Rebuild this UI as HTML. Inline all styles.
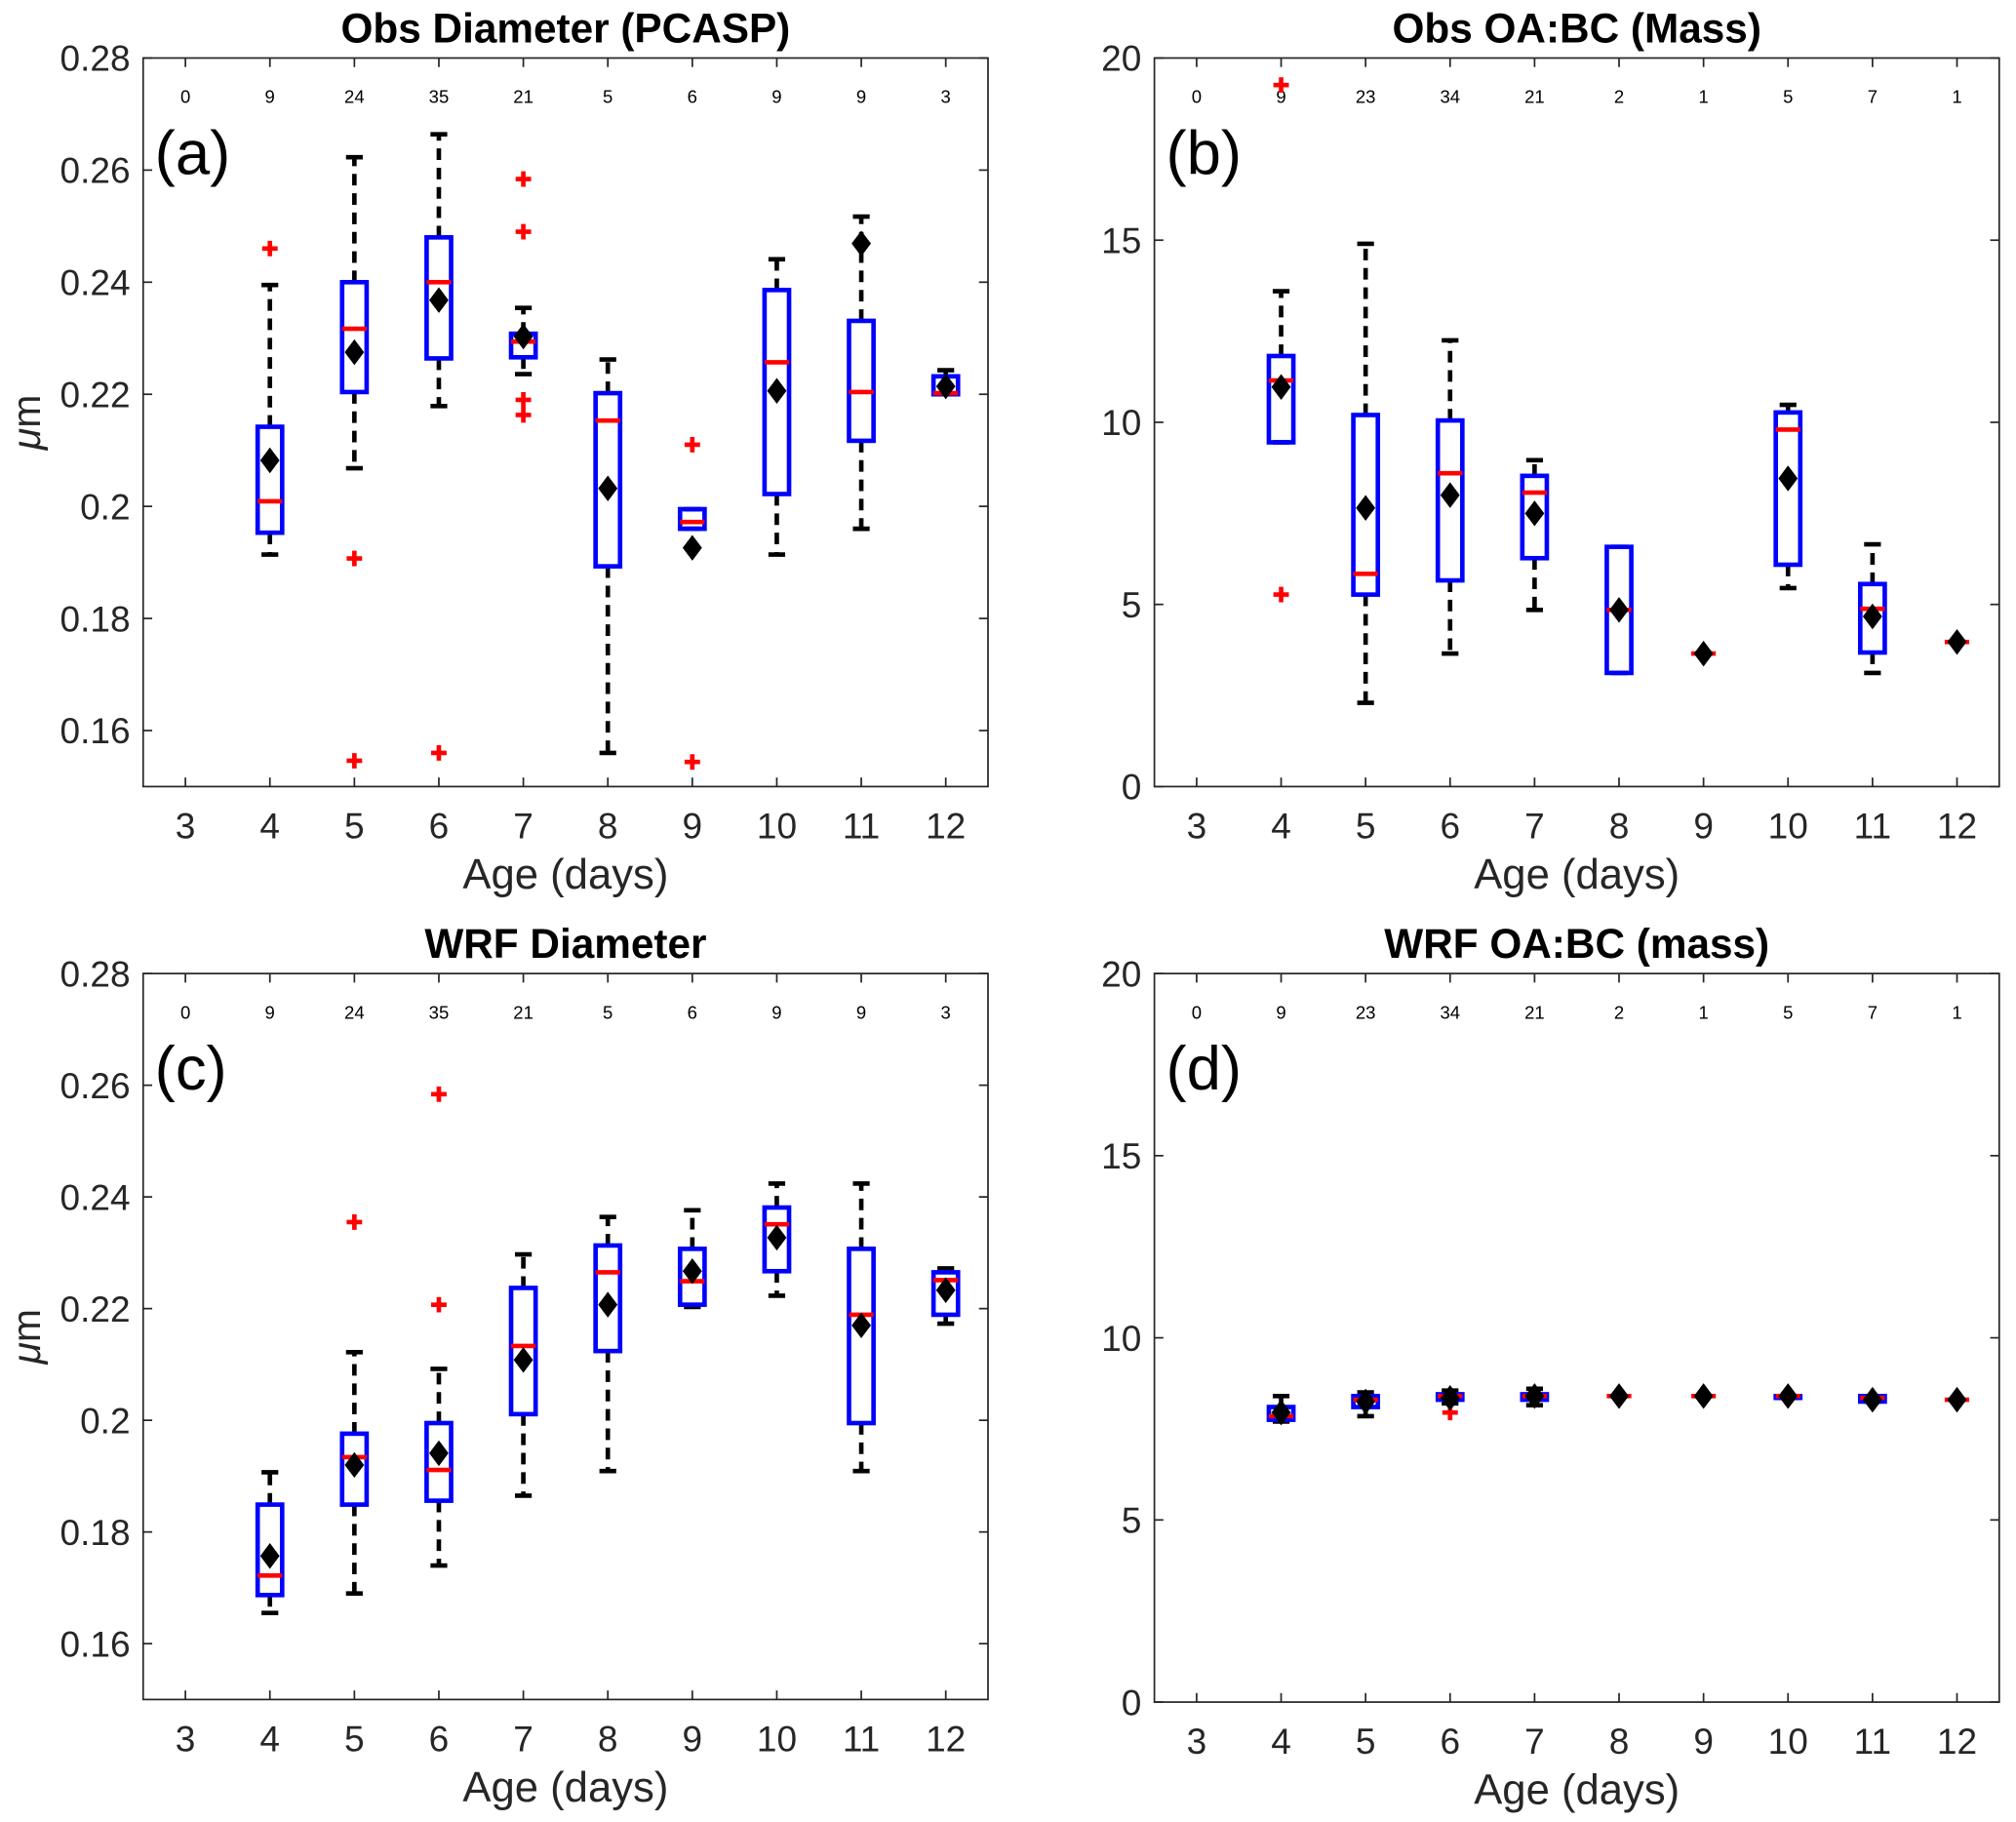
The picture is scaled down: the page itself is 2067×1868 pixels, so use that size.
<!DOCTYPE html>
<html><head><meta charset="utf-8"><style>
html,body{margin:0;padding:0;background:#fff}
svg{display:block}
text{font-family:"Liberation Sans",Arial,sans-serif}
</style></head><body>
<svg id="fig" width="2067" height="1868" viewBox="0 0 1563 1413" preserveAspectRatio="none" xmlns="http://www.w3.org/2000/svg"></svg>
<script>
const categories=[3,4,5,6,7,8,9,10,11,12];
const countsDiam=[0,9,24,35,21,5,6,9,9,3];
const countsOABC=[0,9,23,34,21,2,1,5,7,1];
// [whiskerLow,q1,median,q3,whiskerHigh,mean]
const obsDiam=[null,[0.1914,0.1953,0.2009,0.2142,0.2395,0.2082],[0.2068,0.2204,0.2317,0.2400,0.2623,0.2275],[0.2179,0.2264,0.2400,0.2480,0.2664,0.2368],[0.2236,0.2266,0.2294,0.2308,0.2354,0.2303],[0.1560,0.1893,0.2153,0.2202,0.2262,0.2032],[0.1960,0.1960,0.1972,0.1995,0.1995,0.1926],[0.1914,0.2022,0.2257,0.2386,0.2441,0.2206],[0.1960,0.2117,0.2204,0.2331,0.2517,0.2469],[0.2200,0.2200,0.2202,0.2232,0.2243,0.2214]];
const obsDiamOut=[[],[0.246],[0.1907,0.1546],[0.156],[0.2584,0.249,0.219,0.2163],[],[0.211,0.1544],[],[],[]];
const obsOABC=[null,[9.45,9.45,11.15,11.82,13.6,10.97],[2.3,5.27,5.84,10.2,14.9,7.65],[3.65,5.66,8.6,10.05,12.25,8.0],[4.85,6.27,8.07,8.53,8.96,7.5],[3.12,3.12,4.85,6.58,6.58,4.85],[3.65,3.65,3.65,3.65,3.65,3.65],[5.45,6.09,9.8,10.27,10.48,8.46],[3.12,3.68,4.88,5.56,6.65,4.67],[3.97,3.97,3.97,3.97,3.97,3.97]];
const obsOABCOut=[[],[19.26,5.27],[],[],[],[],[],[],[],[]];
const wrfDiam=[null,[0.1655,0.1687,0.1722,0.1849,0.1907,0.1757],[0.169,0.1849,0.1934,0.1976,0.2122,0.192],[0.174,0.1856,0.1911,0.1995,0.2092,0.1941],[0.1865,0.2011,0.2133,0.2237,0.2297,0.2108],[0.1909,0.2124,0.2265,0.2313,0.2364,0.2207],[0.2203,0.2207,0.2249,0.2307,0.2376,0.2267],[0.2223,0.2267,0.2351,0.2381,0.2424,0.2327],[0.1909,0.1995,0.2189,0.2307,0.2424,0.217],[0.2173,0.2189,0.2251,0.2265,0.2272,0.2233]];
const wrfDiamOut=[[],[],[0.2355],[0.2584,0.2207],[],[],[],[],[],[]];
const wrfOABC=[null,[7.7,7.75,7.85,8.1,8.4,7.95],[7.85,8.1,8.3,8.4,8.5,8.25],[8.2,8.3,8.4,8.45,8.55,8.35],[8.15,8.3,8.4,8.45,8.6,8.4],[8.4,8.4,8.4,8.4,8.4,8.4],[8.4,8.4,8.4,8.4,8.4,8.4],[8.35,8.35,8.4,8.4,8.4,8.4],[8.25,8.25,8.35,8.4,8.4,8.3],[8.3,8.3,8.3,8.3,8.3,8.3]];
const wrfOABCOut=[[],[],[],[7.95],[],[],[],[],[],[]];
const diamTicks=[0.16,0.18,0.2,0.22,0.24,0.26,0.28];
const diamTickLabels=["0.16","0.18","0.2","0.22","0.24","0.26","0.28"];
const oabcTicks=[0,5,10,15,20];
const oabcTickLabels=["0","5","10","15","20"];

const svg=document.getElementById('fig');
const NS='http://www.w3.org/2000/svg';
function mk(tag,at,parent){const e=document.createElementNS(NS,tag);for(const k in at)e.setAttribute(k,at[k]);(parent||svg).appendChild(e);return e;}

function panel(p){
  const g=mk('g',{});
  
  
  const X=c=>p.x0+(c-2.5)/10*(p.x1-p.x0);
  const Y=v=>p.y1-(v-p.ymin)/(p.ymax-p.ymin)*(p.y1-p.y0);
  const ax=mk('rect',{x:p.x0,y:p.y0,width:p.x1-p.x0,height:p.y1-p.y0,fill:'none',stroke:'#262626','stroke-width':1.3},g);
  
  categories.forEach((c,i)=>{
    const x=X(c);
    mk('line',{x1:x,x2:x,y1:p.y1,y2:p.y1-7,stroke:'#262626','stroke-width':1.3},g);
    mk('line',{x1:x,x2:x,y1:p.y0,y2:p.y0+7,stroke:'#262626','stroke-width':1.3},g);
    const t=mk('text',{x:x,y:p.y1+40,'font-size':28,'text-anchor':'middle',fill:'#262626'},g);t.textContent=c;
    
    const n=mk('text',{x:x,y:p.y0+35,'font-size':14,'text-anchor':'middle',fill:'#000'},g);n.textContent=p.counts[i];
    
  });
  p.ticks.forEach((v,i)=>{
    const y=Y(v);
    mk('line',{x1:p.x0,x2:p.x0+7,y1:y,y2:y,stroke:'#262626','stroke-width':1.3},g);
    mk('line',{x1:p.x1,x2:p.x1-7,y1:y,y2:y,stroke:'#262626','stroke-width':1.3},g);
    const t=mk('text',{x:p.x0-10,y:y+10,'font-size':28,'text-anchor':'end',fill:'#262626'},g);t.textContent=p.tickLabels[i];
    
  });
  const tt=mk('text',{x:(p.x0+p.x1)/2,y:p.y0-12,'font-size':32,'font-weight':'bold','text-anchor':'middle',fill:'#000'},g);tt.textContent=p.title;
  
  const xl=mk('text',{x:(p.x0+p.x1)/2,y:p.y1+79,'font-size':33,'text-anchor':'middle',fill:'#262626'},g);xl.textContent='Age (days)';
  
  if(p.ylabel){const yl=mk('text',{x:0,y:0,'font-size':31,'text-anchor':'middle',fill:'#262626',transform:`translate(${p.x0-80},${(p.y0+p.y1)/2}) rotate(-90)`},g);
    yl.innerHTML='<tspan font-style="italic">μ</tspan>m';
    }
  const lt=mk('text',{x:p.x0+9,y:p.y0+90,'font-size':48,fill:'#000'},g);lt.textContent=p.letter;
  
  p.data.forEach((d,i)=>{
    if(!d)return;
    const x=X(categories[i]);const hw=9.5,cw=6.5;
    const bg=mk('g',{},g);
    
    const dash={stroke:'#000','stroke-width':3.5,'stroke-dasharray':'9,6'};
    mk('line',Object.assign({x1:x,x2:x,y1:Y(d[3]),y2:Y(d[4])},dash),bg);
    mk('line',Object.assign({x1:x,x2:x,y1:Y(d[1]),y2:Y(d[0])},dash),bg);
    mk('line',{x1:x-cw,x2:x+cw,y1:Y(d[4]),y2:Y(d[4]),stroke:'#000','stroke-width':3.5},bg);
    mk('line',{x1:x-cw,x2:x+cw,y1:Y(d[0]),y2:Y(d[0]),stroke:'#000','stroke-width':3.5},bg);
    mk('rect',{x:x-hw,y:Y(d[3]),width:2*hw,height:Math.max(0,Y(d[1])-Y(d[3])),fill:'none',stroke:'#0000ff','stroke-width':3.5},bg);
    mk('line',{x1:x-hw,x2:x+hw,y1:Y(d[2]),y2:Y(d[2]),stroke:'#ff0000','stroke-width':3.5},bg);
    p.out[i].forEach(o=>{const y=Y(o);
      mk('path',{d:`M${x-6} ${y}H${x+6}M${x} ${y-6}V${y+6}`,stroke:'#ff0000','stroke-width':3.5,fill:'none'},bg);});
    const m=Y(d[5]);
    mk('path',{d:`M${x} ${m-10}L${x+7.5} ${m}L${x} ${m+10}L${x-7.5} ${m}Z`,fill:'#000'},bg);
  });
}
panel({name:'panel-a-obs-diameter',x0:111,x1:766,y0:45,y1:610,ymin:0.15,ymax:0.28,ticks:diamTicks,tickLabels:diamTickLabels,title:'Obs Diameter (PCASP)',letter:'(a)',ylabel:true,counts:countsDiam,data:obsDiam,out:obsDiamOut});
panel({name:'panel-b-obs-oabc',x0:895,x1:1550,y0:45,y1:610,ymin:0,ymax:20,ticks:oabcTicks,tickLabels:oabcTickLabels,title:'Obs OA:BC (Mass)',letter:'(b)',ylabel:false,counts:countsOABC,data:obsOABC,out:obsOABCOut});
panel({name:'panel-c-wrf-diameter',x0:111,x1:766,y0:755,y1:1318,ymin:0.15,ymax:0.28,ticks:diamTicks,tickLabels:diamTickLabels,title:'WRF Diameter',letter:'(c)',ylabel:true,counts:countsDiam,data:wrfDiam,out:wrfDiamOut});
panel({name:'panel-d-wrf-oabc',x0:895,x1:1550,y0:755,y1:1320,ymin:0,ymax:20,ticks:oabcTicks,tickLabels:oabcTickLabels,title:'WRF OA:BC (mass)',letter:'(d)',ylabel:false,counts:countsOABC,data:wrfOABC,out:wrfOABCOut});
</script>
</body></html>
